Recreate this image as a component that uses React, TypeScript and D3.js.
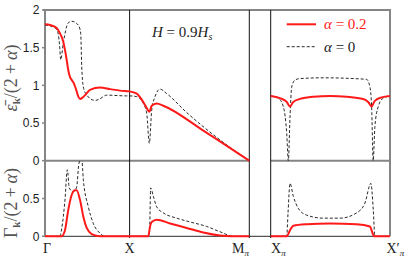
import React, { useEffect, useRef } from 'react';
import * as d3 from 'd3';

type Pt = [number, number];

// path coordinate along Γ → X → M_π (distance units), and X_π → X'_π
const topRedLeft: Pt[] = [
  [0, 1.81], [0.059, 1.80], [0.138, 1.76], [0.177, 1.69], [0.216, 1.58], [0.236, 1.47],
  [0.256, 1.34], [0.275, 1.20], [0.296, 1.11], [0.316, 1.07], [0.335, 1.04], [0.366, 0.95],
  [0.394, 0.85], [0.414, 0.82], [0.446, 0.84], [0.473, 0.87], [0.532, 0.94], [0.650, 0.97],
  [0.768, 0.95], [0.887, 0.93], [1.0, 0.92], [1.084, 0.89], [1.143, 0.81], [1.202, 0.70],
  [1.233, 0.65], [1.261, 0.73], [1.320, 0.76], [1.398, 0.73], [1.871, 0.40], [2.414, 0.0],
];
const topDashLeft: Pt[] = [
  [0, 1.80], [0.059, 1.79], [0.138, 1.74], [0.148, 1.72], [0.171, 1.55], [0.186, 1.34],
  [0.216, 1.56], [0.275, 1.83], [0.316, 1.85], [0.394, 1.80], [0.422, 1.69], [0.434, 1.25],
  [0.453, 0.98], [0.493, 0.87], [0.591, 0.80], [0.630, 0.81], [0.729, 0.87], [0.966, 0.86],
  [1.0, 0.86], [1.084, 0.85], [1.162, 0.76], [1.202, 0.63], [1.233, 0.23], [1.261, 0.67],
  [1.300, 0.85], [1.359, 0.95], [1.438, 0.89], [1.674, 0.64], [2.029, 0.31], [2.414, 0.0],
];
const topRedRight: Pt[] = [
  [0, 0.86], [0.110, 0.83], [0.190, 0.78], [0.229, 0.72], [0.268, 0.78], [0.347, 0.82],
  [0.505, 0.85], [0.703, 0.86], [0.900, 0.85], [1.097, 0.82], [1.156, 0.78], [1.197, 0.72],
  [1.232, 0.79], [1.315, 0.84], [1.414, 0.86],
];
const topDashRight: Pt[] = [
  [0, 0.86], [0.090, 0.83], [0.149, 0.72], [0.190, 0.36], [0.209, 0.0], [0.229, 0.58],
  [0.249, 0.98], [0.288, 1.07], [0.347, 1.09], [0.623, 1.10], [1.137, 1.08], [1.176, 0.98],
  [1.196, 0.73], [1.215, 0.0], [1.235, 0.45], [1.275, 0.72], [1.334, 0.83], [1.414, 0.86],
];
const botRedLeft: Pt[] = [
  [0, 0], [0.196, 0], [0.236, 0.08], [0.275, 0.35], [0.316, 0.55], [0.355, 0.61],
  [0.374, 0.61], [0.414, 0.48], [0.453, 0.26], [0.493, 0.11], [0.552, 0.03], [0.650, 0],
  [1.221, 0], [1.241, 0.13], [1.261, 0.19], [1.320, 0.22], [1.478, 0.17], [1.675, 0.11],
  [1.871, 0.05], [2.068, 0.01], [2.187, 0], [2.414, 0],
];
const botDashLeft: Pt[] = [
  [0, 0], [0.177, 0], [0.197, 0.10], [0.236, 0.48], [0.264, 0.88], [0.287, 0.64],
  [0.335, 0.59], [0.374, 0.65], [0.402, 0.97], [0.434, 1.02], [0.453, 0.75], [0.512, 0.39],
  [0.571, 0.17], [0.650, 0.04], [0.709, 0], [1.221, 0], [1.235, 0.05], [1.249, 0.64],
  [1.280, 0.53], [1.320, 0.39], [1.398, 0.31], [1.557, 0.24], [1.714, 0.19], [1.911, 0.13],
  [2.068, 0.06], [2.226, 0], [2.414, 0],
];
const botRedRight: Pt[] = [
  [0, 0], [0.190, 0], [0.229, 0.08], [0.268, 0.14], [0.427, 0.16], [0.703, 0.17],
  [1.019, 0.16], [1.176, 0.13], [1.208, 0.04], [1.225, 0], [1.414, 0],
];
const botDashRight: Pt[] = [
  [0, 0], [0.190, 0], [0.205, 0.30], [0.229, 0.70], [0.268, 0.53], [0.327, 0.37],
  [0.427, 0.28], [0.623, 0.24], [0.821, 0.24], [1.019, 0.31], [1.117, 0.44], [1.188, 0.70],
  [1.216, 0.35], [1.235, 0], [1.414, 0],
];

const topTicks = [0, 0.5, 1, 1.5, 2];
const botTicks = [0, 0.5];
const legendLabels = ['α = 0.2', 'α = 0'];

const App = () => {
  const svgRef = useRef<SVGSVGElement | null>(null);

  useEffect(() => {
    if (!svgRef.current) return;
    const width = 411;
    const height = 262;
    const svg = d3.select(svgRef.current).attr('width', width).attr('height', height);
    svg.selectAll('*').remove();

    const red = '#ff1a1a';
    const frame = '#858585';
    const ink = '#222';

    const xL = d3.scaleLinear().domain([0, 1 + Math.SQRT2]).range([45, 249.3]);
    const xR = d3.scaleLinear().domain([0, Math.SQRT2]).range([270.7, 390]);
    const yTop = d3.scaleLinear().domain([0, 2]).range([160.7, 10]);
    const yBot = d3.scaleLinear().domain([0, 1]).range([236.3, 160.7]);

    const defs = svg.append('defs');
    const clip = (id: string, x0: number, x1: number, y0: number, y1: number) => {
      defs.append('clipPath').attr('id', id).append('rect')
        .attr('x', x0).attr('y', y0).attr('width', x1 - x0).attr('height', y1 - y0);
    };
    clip('cTL', 44, 250, 10, 162);
    clip('cTR', 270, 391, 10, 162);
    clip('cBL', 44, 250, 161, 240);
    clip('cBR', 270, 391, 161, 240);

    // bottom axis line
    svg.append('line').attr('x1', 45).attr('x2', 390).attr('y1', 236.3).attr('y2', 236.3)
      .attr('stroke', '#555').attr('stroke-width', 1.2);

    // panel divider
    [[45, 249.3], [270.7, 390]].forEach(([a, b]) => {
      svg.append('line').attr('x1', a).attr('x2', b).attr('y1', 160.7).attr('y2', 160.7)
        .attr('stroke', frame).attr('stroke-width', 2);
    });

    // frame
    svg.append('line').attr('x1', 43).attr('x2', 391).attr('y1', 10).attr('y2', 10)
      .attr('stroke', frame).attr('stroke-width', 2);
    svg.append('line').attr('x1', 45).attr('x2', 45).attr('y1', 9).attr('y2', 236.3)
      .attr('stroke', frame).attr('stroke-width', 2);
    svg.append('line').attr('x1', 390).attr('x2', 390).attr('y1', 9).attr('y2', 236.3)
      .attr('stroke', frame).attr('stroke-width', 2);

    // y ticks
    const tickText = (y: number, t: number) => {
      svg.append('line').attr('x1', 42).attr('x2', 45).attr('y1', y).attr('y2', y)
        .attr('stroke', frame).attr('stroke-width', 1.5);
      svg.append('text').attr('x', 39.5).attr('y', y).attr('dy', '0.36em')
        .attr('text-anchor', 'end').attr('fill', ink)
        .style('font-family', '"Liberation Sans", Arial, sans-serif').style('font-size', '12px')
        .text(String(t));
    };
    topTicks.forEach(t => tickText(yTop(t), t));
    botTicks.forEach(t => tickText(yBot(t), t));

    // high-symmetry separators
    [xL(1), xL(1 + Math.SQRT2), xR(0)].forEach(x => {
      svg.append('line').attr('x1', x).attr('x2', x).attr('y1', 10).attr('y2', 238)
        .attr('stroke', '#111').attr('stroke-width', 1);
    });

    const line = (xs: d3.ScaleLinear<number, number>, ys: d3.ScaleLinear<number, number>) =>
      d3.line<Pt>().x(d => xs(d[0])).y(d => ys(d[1])).curve(d3.curveMonotoneX);

    const draw = (data: Pt[], xs: any, ys: any, clipId: string, dashed: boolean) => {
      svg.append('path').attr('d', line(xs, ys)(data)!)
        .attr('fill', 'none')
        .attr('clip-path', `url(#${clipId})`)
        .attr('stroke', dashed ? '#111' : red)
        .attr('stroke-width', dashed ? 0.9 : 2)
        .attr('stroke-dasharray', dashed ? '3,2' : null);
    };
    draw(topDashLeft, xL, yTop, 'cTL', true);
    draw(topDashRight, xR, yTop, 'cTR', true);
    draw(botDashLeft, xL, yBot, 'cBL', true);
    draw(botDashRight, xR, yBot, 'cBR', true);
    draw(topRedLeft, xL, yTop, 'cTL', false);
    draw(topRedRight, xR, yTop, 'cTR', false);
    draw(botRedLeft, xL, yBot, 'cBL', false);
    draw(botRedRight, xR, yBot, 'cBR', false);

    const serif = '"Liberation Serif", serif';

    // x labels
    const xlab = (x: number, anchor: string, main: string, sub?: string) => {
      const t = svg.append('text').attr('x', x).attr('y', 253).attr('text-anchor', anchor)
        .attr('fill', ink).style('font-family', serif).style('font-size', '14px');
      t.append('tspan').text(main);
      if (sub) t.append('tspan').attr('dy', 3)
        .style('font-size', '9px').style('font-style', 'italic').text(sub);
    };
    xlab(43, 'start', 'Γ');
    xlab(xL(1), 'middle', 'X');
    xlab(249, 'end', 'M', 'π');
    xlab(271, 'start', 'X', 'π');
    xlab(386.5, 'start', 'X′', 'π');

    // y titles
    const ytitle = (cy: number, head: string, italic: boolean) => {
      const t = svg.append('text').attr('transform', `translate(17,${cy}) rotate(-90)`)
        .attr('text-anchor', 'middle').attr('fill', '#555')
        .style('font-family', serif).style('font-size', '18px');
      t.append('tspan').style('font-style', italic ? 'italic' : 'normal').text(head);
      t.append('tspan').attr('dy', 3).style('font-size', '11px').style('font-weight', 'bold').text('k');
      t.append('tspan').attr('dy', -3).text('/(2');
      t.append('tspan').attr('dx', 4).text('+');
      t.append('tspan').attr('dx', 4).style('font-style', 'italic').text('α');
      t.append('tspan').text(')');
    };
    ytitle(78, 'ε̄', true);
    ytitle(203, 'Γ', false);

    // annotation
    const ann = svg.append('text').attr('x', 152).attr('y', 37).attr('fill', ink)
      .style('font-family', serif).style('font-size', '15px');
    ann.append('tspan').style('font-style', 'italic').text('H');
    ann.append('tspan').text(' = 0.9');
    ann.append('tspan').style('font-style', 'italic').text('H');
    ann.append('tspan').attr('dy', 3).style('font-size', '10px').style('font-style', 'italic').text('s');

    // legend
    legendLabels.forEach((lab, i) => {
      const y = 24.3 + i * 22.4;
      svg.append('line').attr('x1', 286.7).attr('x2', 316).attr('y1', y).attr('y2', y)
        .attr('stroke', i === 0 ? red : '#111').attr('stroke-width', i === 0 ? 2 : 0.9)
        .attr('stroke-dasharray', i === 0 ? null : '3,2');
      const t = svg.append('text').attr('x', 324).attr('y', y + 5).attr('fill', i === 0 ? red : ink)
        .style('font-family', serif).style('font-size', '15px');
      const [a, rest] = lab.split(' = ');
      t.append('tspan').style('font-style', 'italic').text(a);
      t.append('tspan').text(' = ' + rest);
    });
  }, []);

  return (
    <div style={{ position: 'absolute', left: 0, top: 0 }}>
      <svg ref={svgRef}></svg>
    </div>
  );
};

export default App;
